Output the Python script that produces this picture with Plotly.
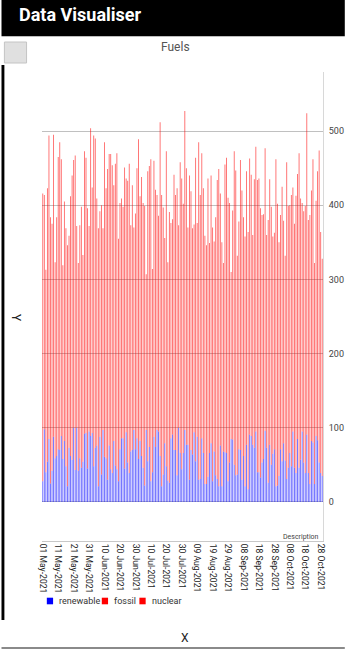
import pandas as pd
import plotly.graph_objects as go

# ---------------- data ----------------
start_date = "2021-05-01"

# top of each stacked bar (renewable + fossil + nuclear), one per day
total = [
    416, 414, 313, 423, 494, 384, 375, 495, 323, 384,
    465, 485, 462, 319, 405, 369, 346, 359, 412, 440,
    461, 467, 372, 322, 373, 398, 333, 473, 464, 396,
    372, 504, 424, 494, 490, 409, 369, 392, 400, 369,
    485, 423, 449, 469, 469, 454, 427, 456, 470, 355,
    403, 409, 398, 451, 436, 433, 456, 373, 427, 370,
    389,
    450, 489, 412, 438, 403, 399, 307, 446, 453, 462,
    314, 460, 421, 414, 386, 512, 414, 397, 356, 473,
    323, 391, 376, 381, 441, 414, 423, 373, 458, 436,
    402, 527, 450, 370, 440, 419, 369, 374, 464, 376,
    485, 414, 470, 423, 359, 346, 436, 349, 440, 370,
    351, 384, 434, 449, 416, 350, 322, 455, 464, 410,
    403, 310,
    393, 473, 447, 332, 378, 461, 420, 384, 358, 446,
    364, 463, 441, 360, 435, 479, 434, 436, 396, 387,
    388, 477, 360, 380, 435, 398, 358, 363, 462, 402,
    350, 387, 425, 379, 332, 458, 399, 400, 414, 424,
    375, 413, 442, 470, 409, 403, 392, 399, 524, 380,
    387, 420, 462, 322, 406, 446, 474, 364, 328,
]

renewable = [
    28, 98, 40, 54, 85, 25, 42, 88, 59, 62,
    71, 70, 89, 58, 82, 48, 21, 73, 62, 57,
    100, 43, 100, 42, 59, 46, 54, 92, 93, 45,
    95, 89, 93, 48, 73, 76, 21, 88, 37, 97,
    61, 59, 30, 76, 44, 39, 82, 49, 44, 28,
    71, 86, 86, 45, 94, 53, 39, 68, 70, 97,
    71, 86, 58, 82, 62, 46, 22, 97, 55, 74,
    28, 40, 88, 74, 97, 95, 62, 21, 37, 79,
    48, 29, 26, 86, 91, 70, 70, 36, 100, 66,
    44, 66, 97,
    77, 77, 30, 70, 64, 94, 55, 88, 30, 31,
    86, 66, 24, 24, 34, 66, 79, 28, 68, 36,
    31, 21, 76, 21, 68, 67, 66, 28, 53, 85,
    84, 50, 36, 37, 71, 70, 30, 62, 21, 77,
    17, 91, 89, 77, 73, 95, 40, 40, 33, 53,
    58, 96, 73, 26, 77, 50, 65, 71, 21, 22,
    35, 71, 55, 79, 56, 31, 46, 66, 48, 95,
    46, 39, 85, 46, 57, 95, 53, 39, 91, 39,
    24, 82, 80, 24, 89, 83, 53, 39, 35,
]

tick_labels = [
    "01 May-2021", "11 May-2021", "21 May-2021", "31 May-2021",
    "10 Jun-2021", "20 Jun-2021", "30 Jun-2021", "10 Jul-2021",
    "20 Jul-2021", "30 Jul-2021", "09 Aug-2021", "19 Aug-2021",
    "29 Aug-2021", "08 Sep-2021", "18 Sep-2021", "28 Sep-2021",
    "08 Oct-2021", "18 Oct-2021", "28 Oct-2021",
]
y_ticks = [0, 100, 200, 300, 400, 500]

series_names = ["renewable", "fossil", "nuclear"]
series_colors = ["#0000ff", "#ff0000", "#ff0000"]

# ---------------- derived tables ----------------
n = min(len(total), len(renewable))
dates = pd.date_range(start_date, periods=n, freq="D")
red_part = [t - r for t, r in zip(total[:n], renewable[:n])]
tick_dates = pd.to_datetime(tick_labels, format="%d %b-%Y")

# ---------------- geometry helpers ----------------
W, H = 356, 651
L, R, T, B = 42, 333.4, 72, 541


def px_x(x):
    return (x - L) / (R - L)


def px_y(y):
    return (B - y) / (B - T)


FONT = "Roboto"

fig = go.Figure()
# 'relative' stacks like 'stack' but keeps anti-aliased (soft) thin bars
fig.add_trace(go.Bar(x=dates, y=renewable[:n], name=series_names[0],
                     marker=dict(color="rgba(0,0,255,0.62)", line=dict(width=0)),
                     showlegend=False))
fig.add_trace(go.Bar(x=dates, y=red_part, name=series_names[1],
                     marker=dict(color="rgba(255,0,0,0.62)", line=dict(width=0)),
                     showlegend=False))

x0 = dates[0] - pd.Timedelta(hours=12)
x1 = dates[-1] + pd.Timedelta(hours=12)

fig.update_layout(
    width=W, height=H, autosize=False,
    margin=dict(l=L, r=W - R, t=T, b=H - B, pad=0),
    paper_bgcolor="white", plot_bgcolor="white",
    barmode="relative", bargap=0.44,
    font=dict(family=FONT, color="#333"),
    xaxis=dict(
        type="date", range=[x0, x1],
        tickmode="array", tickvals=list(tick_dates), ticktext=tick_labels,
        tickangle=90, tickfont=dict(size=8.6, color="#222"),
        showgrid=False, zeroline=False,
        showline=True, linecolor="#c8c8c8", linewidth=1,
        ticks="", fixedrange=True,
    ),
    yaxis=dict(
        side="right", range=[-52.7, 579.7],
        tickmode="array", tickvals=y_ticks,
        tickfont=dict(size=9, color="#444"),
        showgrid=True, gridcolor="#c0c0c0", gridwidth=1,
        zeroline=False, showline=True, linecolor="#d8d8d8", linewidth=1,
        ticks="", ticklabelstandoff=3, fixedrange=True,
    ),
)

shapes = []
annotations = []

# app header
shapes.append(dict(type="rect", xref="paper", yref="paper",
                   x0=px_x(0), x1=px_x(W), y0=px_y(0), y1=px_y(36),
                   fillcolor="black", line=dict(width=0)))
shapes.append(dict(type="rect", xref="paper", yref="paper",
                   x0=px_x(0), x1=px_x(W), y0=px_y(36), y1=px_y(37),
                   fillcolor="#bdbdbd", line=dict(width=0)))
annotations.append(dict(text="<b>Data Visualiser</b>", xref="paper", yref="paper",
                        x=px_x(16), y=px_y(15), xanchor="left", yanchor="middle",
                        showarrow=False, font=dict(family=FONT, size=18, color="white")))
# button
shapes.append(dict(type="rect", xref="paper", yref="paper",
                   x0=px_x(3), x1=px_x(26), y0=px_y(42), y1=px_y(63),
                   fillcolor="#e0e0e0", line=dict(color="#c4c4c4", width=1)))
# left strip
shapes.append(dict(type="rect", xref="paper", yref="paper",
                   x0=px_x(0), x1=px_x(3), y0=px_y(65), y1=px_y(620),
                   fillcolor="black", line=dict(width=0)))
# bottom line
shapes.append(dict(type="rect", xref="paper", yref="paper",
                   x0=px_x(0), x1=px_x(W), y0=px_y(647), y1=px_y(649),
                   fillcolor="#8a8a8a", line=dict(width=0)))

# chart title
annotations.append(dict(text="Fuels", xref="paper", yref="paper",
                        x=px_x(180), y=px_y(47), xanchor="center", yanchor="middle",
                        showarrow=False, font=dict(family=FONT, size=12, color="#555")))
# axis titles
annotations.append(dict(text="Y", xref="paper", yref="paper",
                        x=px_x(15), y=px_y(318), xanchor="center", yanchor="middle",
                        textangle=90, showarrow=False,
                        font=dict(family=FONT, size=12, color="#222")))
annotations.append(dict(text="X", xref="paper", yref="paper",
                        x=px_x(190), y=px_y(638), xanchor="center", yanchor="middle",
                        showarrow=False, font=dict(family=FONT, size=12, color="#222")))
# description
annotations.append(dict(text="Description", xref="paper", yref="paper",
                        x=px_x(331), y=px_y(537), xanchor="right", yanchor="middle",
                        showarrow=False, font=dict(family=FONT, size=7, color="#444")))

# legend (manual, to match the compact layout)
legend_sym_x = [47, 104, 143]
legend_y = 601
for name, color, sx in zip(series_names, series_colors, legend_sym_x):
    shapes.append(dict(type="rect", xref="paper", yref="paper",
                       x0=px_x(sx), x1=px_x(sx + 6.5),
                       y0=px_y(legend_y - 3.3), y1=px_y(legend_y + 3.3),
                       fillcolor=color, line=dict(width=0)))
    annotations.append(dict(text=name, xref="paper", yref="paper",
                            x=px_x(sx + 11), y=px_y(legend_y), xanchor="left",
                            yanchor="middle", showarrow=False,
                            font=dict(family=FONT, size=9, color="#333")))

fig.update_layout(shapes=shapes, annotations=annotations)

fig.write_html("out.html", config=dict(displayModeBar=False),
               post_script="document.body.style.margin='0';"
                           "document.documentElement.style.overflow='hidden';")
